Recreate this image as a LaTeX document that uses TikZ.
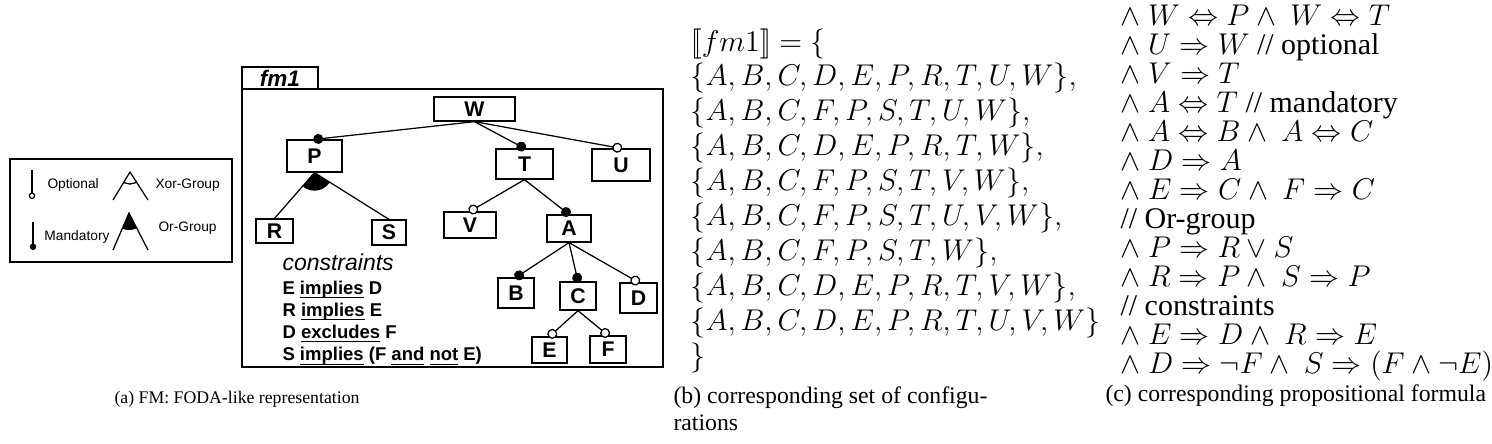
\documentclass[tikz,border=0pt]{standalone}
\usepackage{amsmath,amssymb}
\usepackage[no-math]{fontspec}
\setmainfont{Liberation Serif}
\newfontfamily\fmfont{Liberation Sans}
\usetikzlibrary{calc, arrows.meta}
\newcommand\ulword[1]{\setbox0\hbox{#1}\rlap{\rule[-1.5pt]{\wd0}{0.45pt}}\box0\relax}

\begin{document}
\begin{tikzpicture}[x=0.4pt, y=-0.4pt,
        feat/.style={draw, line width=0.5pt, inner sep=0pt, font=\fmfont\bfseries\fontsize{8.5}{10}\selectfont},
        mand/.style={line width=0.5pt, -{Circle[length=4pt]}, shorten >=-0.5pt},
        opt/.style={line width=0.5pt, -{Circle[open, length=4pt, fill=white]}, shorten >=-0.5pt},
        legtxt/.style={anchor=west, inner sep=0pt, font=\fmfont\fontsize{5.5}{6}\selectfont},
        captxt/.style={inner sep=0pt, font=\rmfamily\fontsize{9.5}{11}\selectfont},
        mathtxt/.style={anchor=base west, inner sep=0pt, text height=8.4pt, text depth=2.4pt, font=\rmfamily\fontsize{12}{14}\selectfont}]
            \useasboundingbox (0,0) rectangle (1492,443);

            % legend
            \draw[line width=0.5pt] (10,159) rectangle (232,262);
            \coordinate (optTop) at (32,170);
            \coordinate (optBot) at (32,199);
            \coordinate (manTop) at (33,222);
            \coordinate (manBot) at (33,250);
            \draw[opt, -{Circle[open, length=2.6pt]}, shorten >=0pt] (optTop) -- (optBot);
            \draw[mand, -{Circle[length=2.6pt]}, shorten >=0pt] (manTop) -- (manBot);
            \node[legtxt] (legOpt) at (47,185) {Optional};
            \node[legtxt] (legMan) at (44,237) {Mandatory};
            \coordinate (xorTop) at (130,172);
            \coordinate (xorL) at (113,200);
            \coordinate (xorR) at (148,200);
            \coordinate (orTop) at (129,213);
            \coordinate (orL) at (113,250);
            \coordinate (orR) at (148,250);
            \draw[line width=0.5pt] (xorL) -- (xorTop) -- (xorR);
            \draw[line width=0.5pt] (orL) -- (orTop) -- (orR);
            \begin{scope}
                \clip (xorTop) -- (xorL) -- (xorR) -- cycle;
                \draw[line width=0.5pt] (xorTop) circle (12);
            \end{scope}
            \begin{scope}
                \clip (orTop) -- (orL) -- (orR) -- cycle;
                \fill (orTop) circle (17);
            \end{scope}
            \node[legtxt] (legXor) at (155,185) {Xor-Group};
            \node[legtxt] (legOr) at (158,228) {Or-Group};

            % feature model
            \draw[line width=0.5pt] (242,89) rectangle (663,367);
            \draw[line width=0.5pt] (242,67) rectangle (318,89);
            \node[font=\fmfont\bfseries\itshape\fontsize{9}{10}\selectfont] (tab) at (280,78) {fm1};
            \foreach \n/\x/\y/\w/\h in {W/474.5/109/81/24, P/314.5/156/55/32, T/524.5/164/57/30,
                    U/621/165/58/32, R/274.5/231/37/24, S/389/232.5/34/25, V/470/225/52/26,
                    A/569/228.5/44/27, B/516/293/36/30, C/578/296/36/28, D/638.5/298/37/30,
                    E/549.5/350/35/26, F/608/349.5/36/27}{
                \node[feat, minimum width=\w*0.4pt, minimum height=\h*0.4pt] (\n) at (\x,\y) {\n};
            }
            \foreach \a/\b in {W/P, W/T, T/A, A/B, A/C}{
                \draw[mand] (\a.south) -- (\b.north);
            }
            \foreach \a/\b in {W/U, T/V, A/D, C/E, C/F}{
                \draw[opt] (\a.south) -- (\b.north);
            }
            \draw[line width=0.5pt] (R.north) -- (P.south) -- (S.north);
            \begin{scope}
                \clip (P.south) -- (R.north) -- (S.north) -- cycle;
                \fill (P.south) circle (18);
            \end{scope}
            \node[anchor=base west, inner sep=0pt, font=\fmfont\itshape\fontsize{9.2}{10}\selectfont] (cons) at (282,270) {constraints};
            \foreach \t [count=\i] in {E \ulword{implies} D, R \ulword{implies} E, D \ulword{excludes} F,
                    S \ulword{implies} (F \ulword{and} \ulword{not} E)}{
                \node[anchor=base west, inner sep=0pt, font=\fmfont\bfseries\fontsize{7.4}{9}\selectfont] (cons\i) at (282,{294+22.3*(\i-1)}) {\t};
            }

            % configurations
            \foreach \t [count=\i] in {{$[\![fm1]\!] = \{$}, {$\{A,B,C,D,E,P,R,T,U,W\},$},
                    {$\{A,B,C,F,P,S,T,U,W\},$}, {$\{A,B,C,D,E,P,R,T,W\},$},
                    {$\{A,B,C,F,P,S,T,V,W\},$}, {$\{A,B,C,F,P,S,T,U,V,W\},$},
                    {$\{A,B,C,F,P,S,T,W\},$}, {$\{A,B,C,D,E,P,R,T,V,W\},$},
                    {$\{A,B,C,D,E,P,R,T,U,V,W\}$}, {$\}$}}{
                \node[mathtxt] (cfg\i) at (690,{51+34.9*(\i-1)}) {\t};
            }

            % formula
            \foreach \t [count=\i] in {{$\wedge\ W \Leftrightarrow P \wedge\ W \Leftrightarrow T$},
                    {$\wedge\ U \Rightarrow W$ // optional}, {$\wedge\ V \Rightarrow T$},
                    {$\wedge\ A \Leftrightarrow T$ // mandatory},
                    {$\wedge\ A \Leftrightarrow B \wedge\ A \Leftrightarrow C$}, {$\wedge\ D \Rightarrow A$},
                    {$\wedge\ E \Rightarrow C \wedge\ F \Rightarrow C$}, {// Or-group},
                    {$\wedge\ P \Rightarrow R \vee S$}, {$\wedge\ R \Rightarrow P \wedge\ S \Rightarrow P$},
                    {// constraints}, {$\wedge\ E \Rightarrow D \wedge\ R \Rightarrow E$},
                    {$\wedge\ D \Rightarrow \neg F \wedge\ S \Rightarrow (F \wedge \neg E)$}}{
                \node[mathtxt] (frm\i) at (1120,{25+29.0*(\i-1)}) {\t};
            }

            % captions
            \node[captxt, anchor=base, font=\rmfamily\fontsize{7.1}{9}\selectfont] (capA) at (237,403) {(a) FM: FODA-like representation};
            \node[captxt, anchor=base west] (capB) at (673,403) {(b) corresponding set of configu-};
            \node[captxt, anchor=base west] (capB2) at (673,430) {rations};
            \node[captxt, anchor=base west] (capC) at (1105,401) {(c) corresponding propositional formula};
        \end{tikzpicture}
\end{document}
